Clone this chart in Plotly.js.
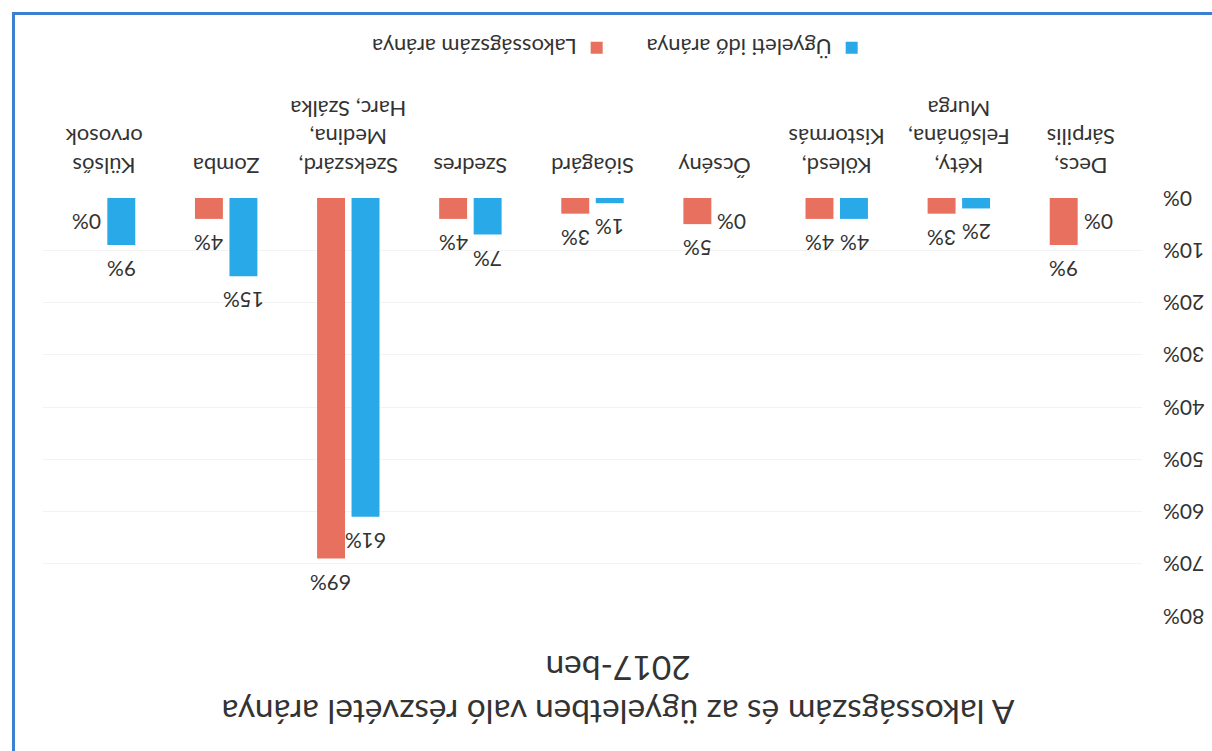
<!DOCTYPE html>
<html>
<head>
<meta charset="utf-8">
<script src="https://cdn.plot.ly/plotly-3.0.1.min.js"></script>
<style>
html,body{margin:0;padding:0;background:#fff;overflow:hidden;}
#wrap{position:relative;width:1212px;height:751px;transform:rotate(180deg);transform-origin:50% 50%;background:#fff;}
#chart{position:absolute;left:0;top:0;width:1212px;height:751px;}
#frame{position:absolute;left:-10px;top:-10px;width:1207px;height:746px;border-right:3px solid #3d7fd0;border-bottom:3px solid #3d7fd0;pointer-events:none;}
</style>
</head>
<body>
<div id="wrap"><div id="chart"></div><div id="frame"></div></div>
<script>
const categories = [
  'Decs,<br>Sárpilis',
  'Kéty,<br>Felsőnána,<br>Murga',
  'Kölesd,<br>Kistormás',
  'Őcsény',
  'Sióagárd',
  'Szedres',
  'Szekszárd,<br>Medina,<br>Harc, Szálka',
  'Zomba',
  'Külsős<br>orvosok'
];
const ugyeletiIdo = [0, 2, 4, 0, 1, 7, 61, 15, 9];
const lakossagszam = [9, 3, 4, 5, 3, 4, 69, 4, 0];
const seriesNames = ['Ügyeleti idő aránya', 'Lakosságszám aránya'];
const seriesColors = ['#2AA9E9', '#E8705E'];
const yTicks = [0, 10, 20, 30, 40, 50, 60, 70, 80];

const FONT = 'Lato, "Open Sans", sans-serif';
const TXT = '#333333';

const traces = [
  {type: 'bar', name: seriesNames[0], x: categories, y: ugyeletiIdo,
   marker: {color: seriesColors[0]}, hoverinfo: 'skip'},
  {type: 'bar', name: seriesNames[1], x: categories, y: lakossagszam,
   marker: {color: seriesColors[1]}, hoverinfo: 'skip'}
];

const annotations = [];
[ugyeletiIdo, lakossagszam].forEach((vals, s) => {
  vals.forEach((v, j) => {
    annotations.push({
      x: categories[j], y: v, xref: 'x', yref: 'y',
      text: v + '%', showarrow: false,
      xshift: s === 0 ? -17.3 : 17.3, yanchor: 'bottom', yshift: 10,
      font: {family: FONT, size: 21, color: TXT}
    });
  });
});

const layout = {
  width: 1212, height: 751,
  paper_bgcolor: '#ffffff', plot_bgcolor: '#ffffff',
  margin: {l: 70, r: 43, t: 135, b: 198},
  font: {family: FONT, size: 21, color: TXT},
  title: {
    text: 'A lakosságszám és az ügyeletben való részvétel aránya<br>2017-ben',
    font: {family: FONT, size: 33.5, color: TXT},
    x: 0.49, xanchor: 'center', yref: 'container', y: 0.932, yanchor: 'top'
  },
  barmode: 'group', bargap: 0.435, bargroupgap: 0.19,
  showlegend: true,
  legend: {orientation: 'h', x: 0.478, xanchor: 'center', y: -0.36, yanchor: 'middle',
           entrywidth: 210, entrywidthmode: 'pixels',
           font: {family: FONT, size: 22, color: TXT}, traceorder: 'normal'},
  xaxis: {type: 'category', showgrid: false, showline: false, ticks: '',
          tickfont: {family: FONT, size: 22, color: TXT}, ticklabelstandoff: 17,
          fixedrange: true},
  yaxis: {range: [0, 80], tickvals: yTicks, ticktext: yTicks.map(t => t + '%'),
          showgrid: true, gridcolor: '#f3f3f3', gridwidth: 1, zeroline: false,
          showline: false, ticks: '', ticklabelstandoff: 20,
          tickfont: {family: FONT, size: 21, color: TXT}, fixedrange: true},
  annotations: annotations
};

Plotly.newPlot('chart', traces, layout, {displayModeBar: false, staticPlot: true});
</script>
</body>
</html>
